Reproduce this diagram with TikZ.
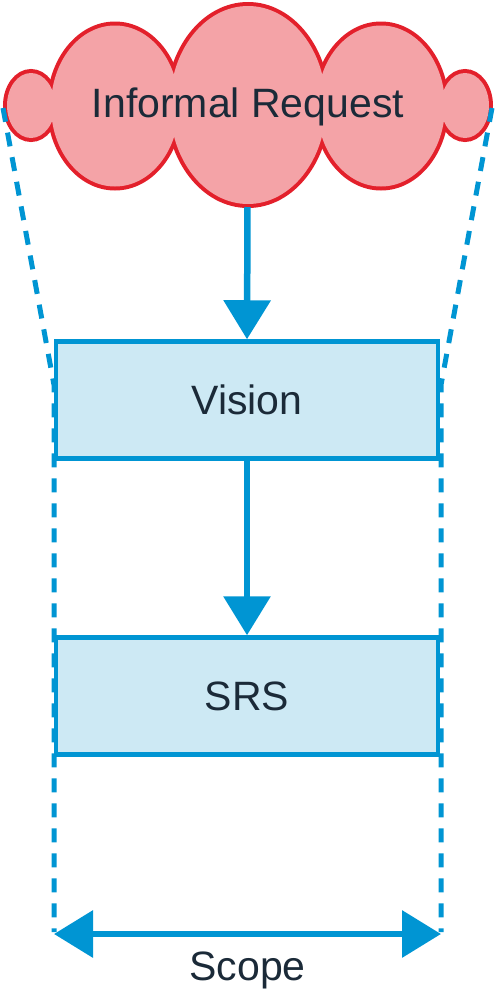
\documentclass[tikz,border=0pt]{standalone}
\usepackage{fontspec}
\setmainfont{Liberation Sans}
\usetikzlibrary{arrows.meta}
\definecolor{cblue}{HTML}{0095D3}
\definecolor{boxfill}{HTML}{CDE9F4}
\definecolor{cred}{HTML}{E3202B}
\definecolor{cpink}{HTML}{F4A3A7}
\definecolor{ink}{HTML}{1B2A38}
\begin{document}
\begin{tikzpicture}[x=1pt,y=-1pt,
  flow/.style={line width=6.5pt, draw=cblue, -{Triangle[length=39pt,width=46pt]}},
  scopearrow/.style={line width=6.5pt, draw=cblue, {Triangle[length=39pt,width=46pt]}-{Triangle[length=39pt,width=46pt]}},
  guide/.style={draw=cblue, line width=5pt, dash pattern=on 14pt off 11pt},
  stepbox/.style={draw=cblue, line width=4.5pt, fill=boxfill, minimum width=382pt, minimum height=117pt, inner sep=0pt, font=\fontsize{41}{49}\selectfont, text=ink},
  lbl/.style={font=\fontsize{41}{49}\selectfont, text=ink, inner sep=0pt, anchor=base}]
\useasboundingbox (0,0) rectangle (495,991);
% cloud
\foreach \cx/\cy/\rx/\ry in {31/105.5/24/32.5, 115/106/64/80.5, 248/105/78/99, 381/106/64/80.5, 465/105.5/24/32.5}
  \draw[draw=cred, line width=8pt] (\cx,\cy) ellipse [x radius=\rx pt, y radius=\ry pt];
\foreach \cx/\cy/\rx/\ry in {31/105.5/24/32.5, 115/106/64/80.5, 248/105/78/99, 381/106/64/80.5, 465/105.5/24/32.5}
  \fill[cpink] (\cx,\cy) ellipse [x radius=\rx pt, y radius=\ry pt];
\node[lbl] (req) at (248,117) {Informal Request};
\coordinate (cloudbot) at (247.5,207);
\coordinate (cloudL) at (3,108);
\coordinate (cloudR) at (492,108);
\coordinate (kneeL) at (54,385);
\coordinate (kneeR) at (441,385);
\coordinate (footL) at (54,932);
\coordinate (footR) at (441,932);
\coordinate (scopeL) at (54,934);
\coordinate (scopeR) at (441,934);
% guides
\draw[guide] (cloudL) -- (kneeL) -- (footL);
\draw[guide] (cloudR) -- (kneeR) -- (footR);
% boxes
\node[stepbox] (vision) at (247,400) {Vision};
\node[stepbox] (srs) at (247,696) {SRS};
% arrows
\draw[flow] (cloudbot) -- (vision.north);
\draw[flow] (vision.south) -- (srs.north);
\draw[scopearrow] (scopeL) -- (scopeR);
\node[lbl] (scope) at (247.5,980) {Scope};
\end{tikzpicture}
\end{document}
